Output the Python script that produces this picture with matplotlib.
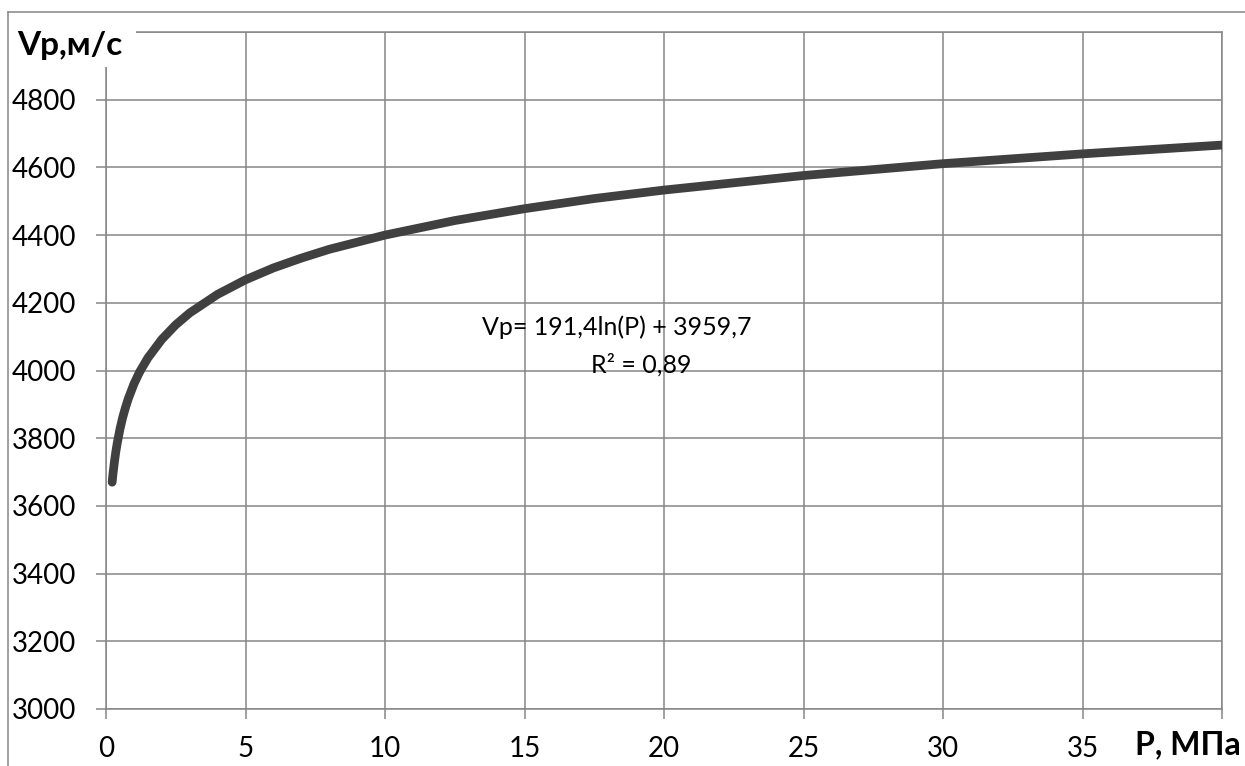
import matplotlib
matplotlib.use("Agg")
import matplotlib.pyplot as plt
from matplotlib.patches import Rectangle
from matplotlib.lines import Line2D

# Data (trend curve)
pressure = [0.22, 0.25, 0.3, 0.35, 0.4, 0.5, 0.6, 0.7, 0.8, 1.0, 1.2, 1.5, 2.0, 2.5,
            3.0, 4.0, 5.0, 6.0, 7.0, 8.0, 10.0, 12.5, 15.0, 17.5, 20.0, 25.0, 30.0, 35.0, 40.0]
vp = [3670, 3695, 3729, 3759, 3784, 3827, 3862, 3891, 3917, 3960, 3995, 4037, 4092, 4135,
      4170, 4225, 4268, 4303, 4332, 4358, 4400, 4443, 4478, 4508, 4533, 4576, 4611, 4640, 4666]
x_ticks = [0, 5, 10, 15, 20, 25, 30, 35, 40]
x_tick_labels = ["0", "5", "10", "15", "20", "25", "30", "35", ""]
y_ticks = [3000, 3200, 3400, 3600, 3800, 4000, 4200, 4400, 4600, 4800, 5000]
y_tick_labels = ["3000", "3200", "3400", "3600", "3800", "4000", "4200", "4400", "4600", "4800", ""]
equation_text = "Vp= 191,4ln(P) + 3959,7"
r2_text = "R² = 0,89"
y_title = "Vp,м/с"
x_title = "P, МПа"

W, H = 1245, 766
grid_c = "#868686"
font = ["Lato", "DejaVu Sans"]
plt.rcParams["font.family"] = font

fig = plt.figure(figsize=(W / 100, H / 100), dpi=100)
ax = fig.add_axes([106 / W, 1 - 709 / H, (1222 - 106) / W, (709 - 32) / H])

ax.plot(pressure, vp, color="#404040", lw=6.3, solid_capstyle="round", zorder=3)
ax.set_xlim(0, 40)
ax.set_ylim(3000, 5000)
ax.set_xticks(x_ticks)
ax.set_xticklabels(x_tick_labels)
ax.set_yticks(y_ticks)
ax.set_yticklabels(y_tick_labels)
ax.grid(True, color=grid_c, lw=1.1)
ax.set_axisbelow(True)
for s in ax.spines.values():
    s.set_color(grid_c)
    s.set_linewidth(1.1)
ax.tick_params(axis="both", colors=grid_c, labelcolor="black", length=7.5, width=1.1,
               labelsize=20, direction="out")
ax.tick_params(axis="y", pad=14)
ax.tick_params(axis="x", pad=12)

ax.text(18.3, 4128, equation_text, fontsize=18, ha="center", va="center", zorder=4)
ax.text(19.2, 4016, r2_text, fontsize=18, ha="center", va="center", zorder=4)

# Outer chart border (top and left)
fig.add_artist(Line2D([8 / W, 1.0], [1 - 12 / H, 1 - 12 / H], color=grid_c, lw=1.1,
                      transform=fig.transFigure))
fig.add_artist(Line2D([8 / W, 8 / W], [1 - 12 / H, 0], color=grid_c, lw=1.1,
                      transform=fig.transFigure))

# White box behind the y-axis title
fig.add_artist(Rectangle((9 / W, 1 - 67 / H), (136 - 9) / W, (67 - 24) / H,
                         transform=fig.transFigure, facecolor="white", edgecolor="none",
                         zorder=5))
fig.text(17 / W, 1 - 45 / H, y_title, fontsize=24, fontweight="bold", ha="left",
         va="center", zorder=6)
fig.text(1241 / W, 1 - 745 / H, x_title, fontsize=23, fontweight="bold", ha="right",
         va="center", zorder=6)

fig.savefig("out.png", dpi=100)
